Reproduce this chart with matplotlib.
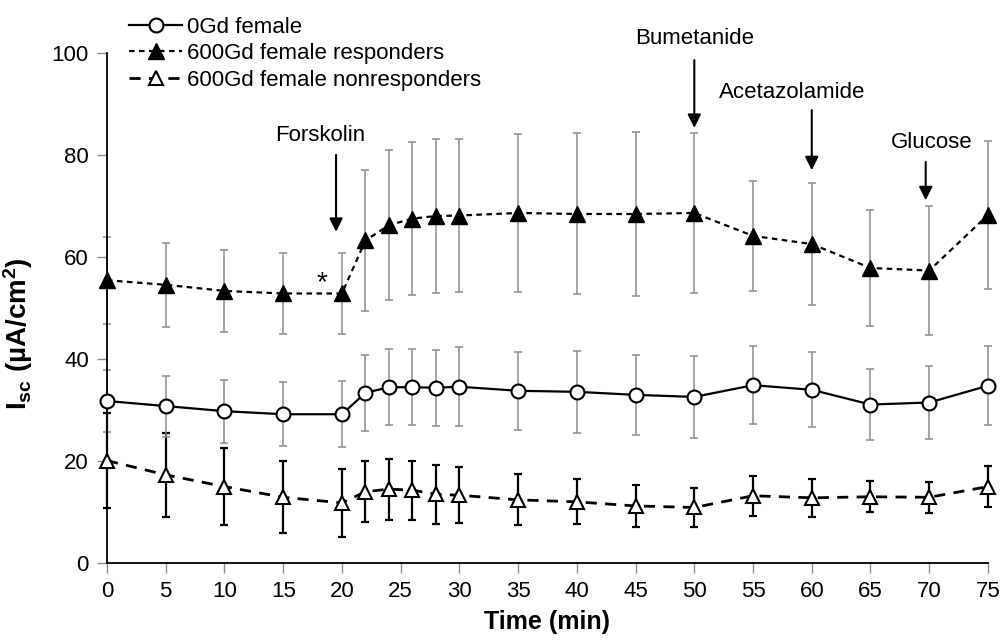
import numpy as np
import matplotlib
matplotlib.use('Agg')
import matplotlib.pyplot as plt

plt.rcParams['font.family'] = ['Liberation Sans', 'DejaVu Sans']
plt.rcParams['mathtext.fontset'] = 'custom'
plt.rcParams['mathtext.rm'] = 'Liberation Sans'
plt.rcParams['mathtext.bf'] = 'Liberation Sans:bold'

# time points (min)
times = [0, 5, 10, 15, 20, 22, 24, 26, 28, 30, 35, 40, 45, 50, 55, 60, 65, 70, 75]

# 0Gd female
ctrl_mean = [31.8, 30.8, 29.8, 29.2, 29.2, 33.4, 34.5, 34.5, 34.4, 34.6, 33.8,
             33.6, 33.0, 32.6, 34.9, 34.0, 31.1, 31.5, 34.8]
ctrl_err = [6.0, 6.0, 6.2, 6.3, 6.5, 7.5, 7.5, 7.5, 7.5, 7.8, 7.6,
            8.0, 7.9, 8.0, 7.6, 7.4, 7.0, 7.2, 7.8]

# 600Gd female responders
resp_mean = [55.5, 54.6, 53.4, 52.9, 52.9, 63.3, 66.3, 67.6, 68.1, 68.2, 68.7,
             68.5, 68.5, 68.7, 64.2, 62.6, 57.9, 57.4, 68.3]
resp_err = [8.5, 8.3, 8.0, 8.0, 8.0, 13.8, 14.7, 15.0, 15.1, 15.1, 15.5,
            15.8, 16.0, 15.7, 10.8, 12.0, 11.3, 12.7, 14.5]

# 600Gd female nonresponders
nonresp_mean = [20.1, 17.3, 15.0, 12.9, 11.8, 14.0, 14.5, 14.3, 13.5, 13.3, 12.4,
                12.0, 11.2, 10.9, 13.2, 12.8, 13.0, 12.9, 15.0]
nonresp_err = [9.3, 8.3, 7.6, 7.1, 6.6, 6.0, 6.0, 5.8, 5.8, 5.5, 5.0,
               4.4, 4.2, 3.9, 3.9, 3.7, 3.0, 3.0, 4.0]

labels = ['0Gd female', '600Gd female responders', '600Gd female nonresponders']

# drug additions
drugs = ['Forskolin', 'Bumetanide', 'Acetazolamide', 'Glucose']
drug_times = [19.5, 50, 60, 69.7]

fig = plt.figure(figsize=(10.03, 6.43), dpi=100)
ax = fig.add_axes([0.1067, 0.1244, 0.8783, 0.7924])

gray = '#8c8c8c'

# nonresponders
ax.errorbar(times, nonresp_mean, yerr=nonresp_err, fmt='none', ecolor='black',
            elinewidth=1.6, capsize=3, capthick=1.6, clip_on=False, zorder=2)
l3, = ax.plot(times, nonresp_mean, color='black', lw=2, dashes=(4, 3),
              marker='^', ms=10, mfc='white', mec='black', mew=1.5,
              clip_on=False, zorder=4, label=labels[2])

# control
ax.errorbar(times, ctrl_mean, yerr=ctrl_err, fmt='none', ecolor=gray,
            elinewidth=1.1, capsize=3, capthick=1.1, clip_on=False, zorder=2)
l1, = ax.plot(times, ctrl_mean, color='black', lw=1.6, marker='o', ms=10,
              mfc='white', mec='black', mew=1.5, clip_on=False, zorder=5,
              label=labels[0])

# responders
ax.errorbar(times, resp_mean, yerr=resp_err, fmt='none', ecolor=gray,
            elinewidth=1.1, capsize=3, capthick=1.1, clip_on=False, zorder=2)
l2, = ax.plot(times, resp_mean, color='black', lw=1.6, dashes=(2.5, 2),
              marker='^', ms=11, mfc='black', mec='black',
              clip_on=False, zorder=5, label=labels[1])

ax.set_xlim(0, 75)
ax.set_ylim(0, 100)
ax.set_xticks(np.arange(0, 80, 5))
ax.set_yticks(np.arange(0, 120, 20))
for s in ['top', 'right']:
    ax.spines[s].set_visible(False)
for s in ['left', 'bottom']:
    ax.spines[s].set_linewidth(1.3)
ax.tick_params(direction='out', length=7, width=1, color=gray,
               labelsize=16, pad=6)

ax.set_xlabel('Time (min)', fontsize=18, fontweight='bold', labelpad=6)
ax.set_ylabel(r'$\mathbf{I_{sc}}$ (µA/cm$\mathbf{^2}$)', fontsize=20,
              fontweight='bold')
ax.yaxis.set_label_coords(-0.082, 0.45)

# drug arrows
arrow_top = [80.1, 98.7, 88.9, 78.7]
arrow_tip = [65.0, 85.4, 77.1, 71.2]
text_pos = [(22.0, 84.0), (50.0, 103.0), (58.3, 92.3), (70.2, 82.6)]
text_ha = ['right', 'center', 'center', 'center']
for name, t, y0, y1, (tx, ty), ha in zip(drugs, drug_times, arrow_top, arrow_tip,
                                         text_pos, text_ha):
    ax.annotate('', xy=(t, y1), xytext=(t, y0),
                arrowprops=dict(arrowstyle='-|>', color='black', lw=1.5,
                                mutation_scale=20, shrinkA=0, shrinkB=0),
                annotation_clip=False)
    ax.text(tx, ty, name, ha=ha, va='center', fontsize=16, clip_on=False)

ax.text(18.3, 55.0, '*', ha='center', va='center', fontsize=20)

ax.legend(handles=[l1, l2, l3], loc='upper left', bbox_to_anchor=(0.015, 1.09),
          frameon=False, fontsize=16, handlelength=2.4, handletextpad=0.2,
          labelspacing=0.25, borderaxespad=0)

fig.savefig('out.png', dpi=100)
